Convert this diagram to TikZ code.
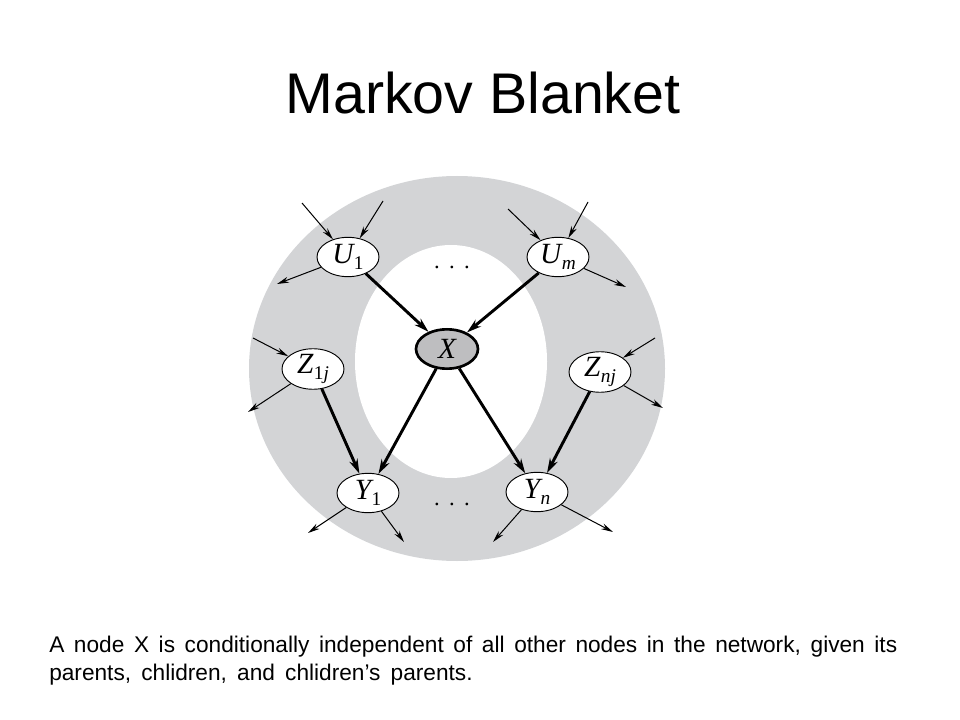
\documentclass[tikz,border=0pt]{standalone}
\usepackage{fontspec}
\setmainfont{Liberation Sans}
\newfontfamily\lblfont{Liberation Serif}
\usetikzlibrary{shapes.geometric,arrows.meta}
\definecolor{ringgray}{RGB}{211,212,214}
\definecolor{xgray}{RGB}{190,190,192}
\newcommand{\lab}[2]{{\itshape #1}\kern0.3pt\raisebox{-4pt}{\fontsize{14.5}{15}\selectfont #2}}
\begin{document}
\begin{tikzpicture}[x=0.75pt,y=-0.75pt,
  bnode/.style={ellipse,draw,line width=0.7pt,fill=white,minimum width=46.5pt,minimum height=29.5pt,inner xsep=-8pt,inner ysep=0pt,font=\lblfont\fontsize{22}{24}\selectfont},
  xnode/.style={bnode,line width=2pt,fill=xgray},
  thinarr/.style={line width=0.75pt,-{Stealth[length=9pt,width=4.5pt]}},
  thickarr/.style={line width=2.2pt,-{Stealth[length=11pt,width=6.5pt]}},
  dotsnode/.style={inner sep=0pt,font=\lblfont\fontsize{17}{20}\selectfont}]
\useasboundingbox (0,0) rectangle (960,720);
% rings
\fill[ringgray] (457,368.5) ellipse [x radius=208, y radius=192.5];
\fill[white] (451,361.5) ellipse [x radius=96, y radius=116.5];
% title
\node[anchor=base,inner sep=0pt,font=\fontsize{43}{50}\selectfont] (title) at (483,114) {Markov Blanket};
% nodes
\node[bnode] (U1) at (348,257) {\lab{U}{1}};
\node[bnode] (Um) at (558,257) {\lab{U}{\itshape m}};
\node[xnode] (X) at (447,349) {\itshape X};
\node[bnode] (Z1) at (313,369) {\lab{Z}{1\itshape j}};
\node[bnode] (Zn) at (600,372) {\lab{Z}{\itshape nj}};
\node[bnode] (Y1) at (368,493) {\lab{Y}{1}};
\node[bnode] (Yn) at (537,492) {\lab{Y}{\itshape n}};
\node[dotsnode] (dtop) at (452,267) {.\hskip7pt.\hskip7pt.};
\node[dotsnode] (dbot) at (452,504) {.\hskip7pt.\hskip7pt.};
% free ends
\coordinate (u1a) at (302,203);
\coordinate (u1b) at (383,201);
\coordinate (u1o) at (277,284);
\coordinate (uma) at (508,209);
\coordinate (umb) at (588,202);
\coordinate (umo) at (626,287);
\coordinate (z1a) at (253,338);
\coordinate (z1o) at (248,412);
\coordinate (zna) at (655,338);
\coordinate (zno) at (663,408);
\coordinate (y1o1) at (308,533);
\coordinate (y1o2) at (404,542);
\coordinate (yno1) at (493,542);
\coordinate (yno2) at (613,532);
% thin arrows
\draw[thinarr] (u1a) -- (U1);
\draw[thinarr] (u1b) -- (U1);
\draw[thinarr] (U1) -- (u1o);
\draw[thinarr] (uma) -- (Um);
\draw[thinarr] (umb) -- (Um);
\draw[thinarr] (Um) -- (umo);
\draw[thinarr] (z1a) -- (Z1);
\draw[thinarr] (Z1) -- (z1o);
\draw[thinarr] (zna) -- (Zn);
\draw[thinarr] (Zn) -- (zno);
\draw[thinarr] (Y1) -- (y1o1);
\draw[thinarr] (Y1) -- (y1o2);
\draw[thinarr] (Yn) -- (yno1);
\draw[thinarr] (Yn) -- (yno2);
% thick arrows
\draw[thickarr] (U1) -- (X);
\draw[thickarr] (Um) -- (X);
\draw[thickarr] (X) -- (Y1);
\draw[thickarr] (X) -- (Yn);
\draw[thickarr] (Z1) -- (Y1);
\draw[thickarr] (Zn) -- (Yn);
% caption
\node[anchor=north west,inner sep=0pt,text width=636pt,align=justify,font=\fontsize{17}{21}\selectfont] (cap) at (49,636)
  {\spaceskip=0.45em plus 0.5em minus 0.05em\relax A node X is conditionally independent of all other nodes in the network, given its\linebreak parents, chlidren, and chlidren’s parents.};
\end{tikzpicture}
\end{document}
